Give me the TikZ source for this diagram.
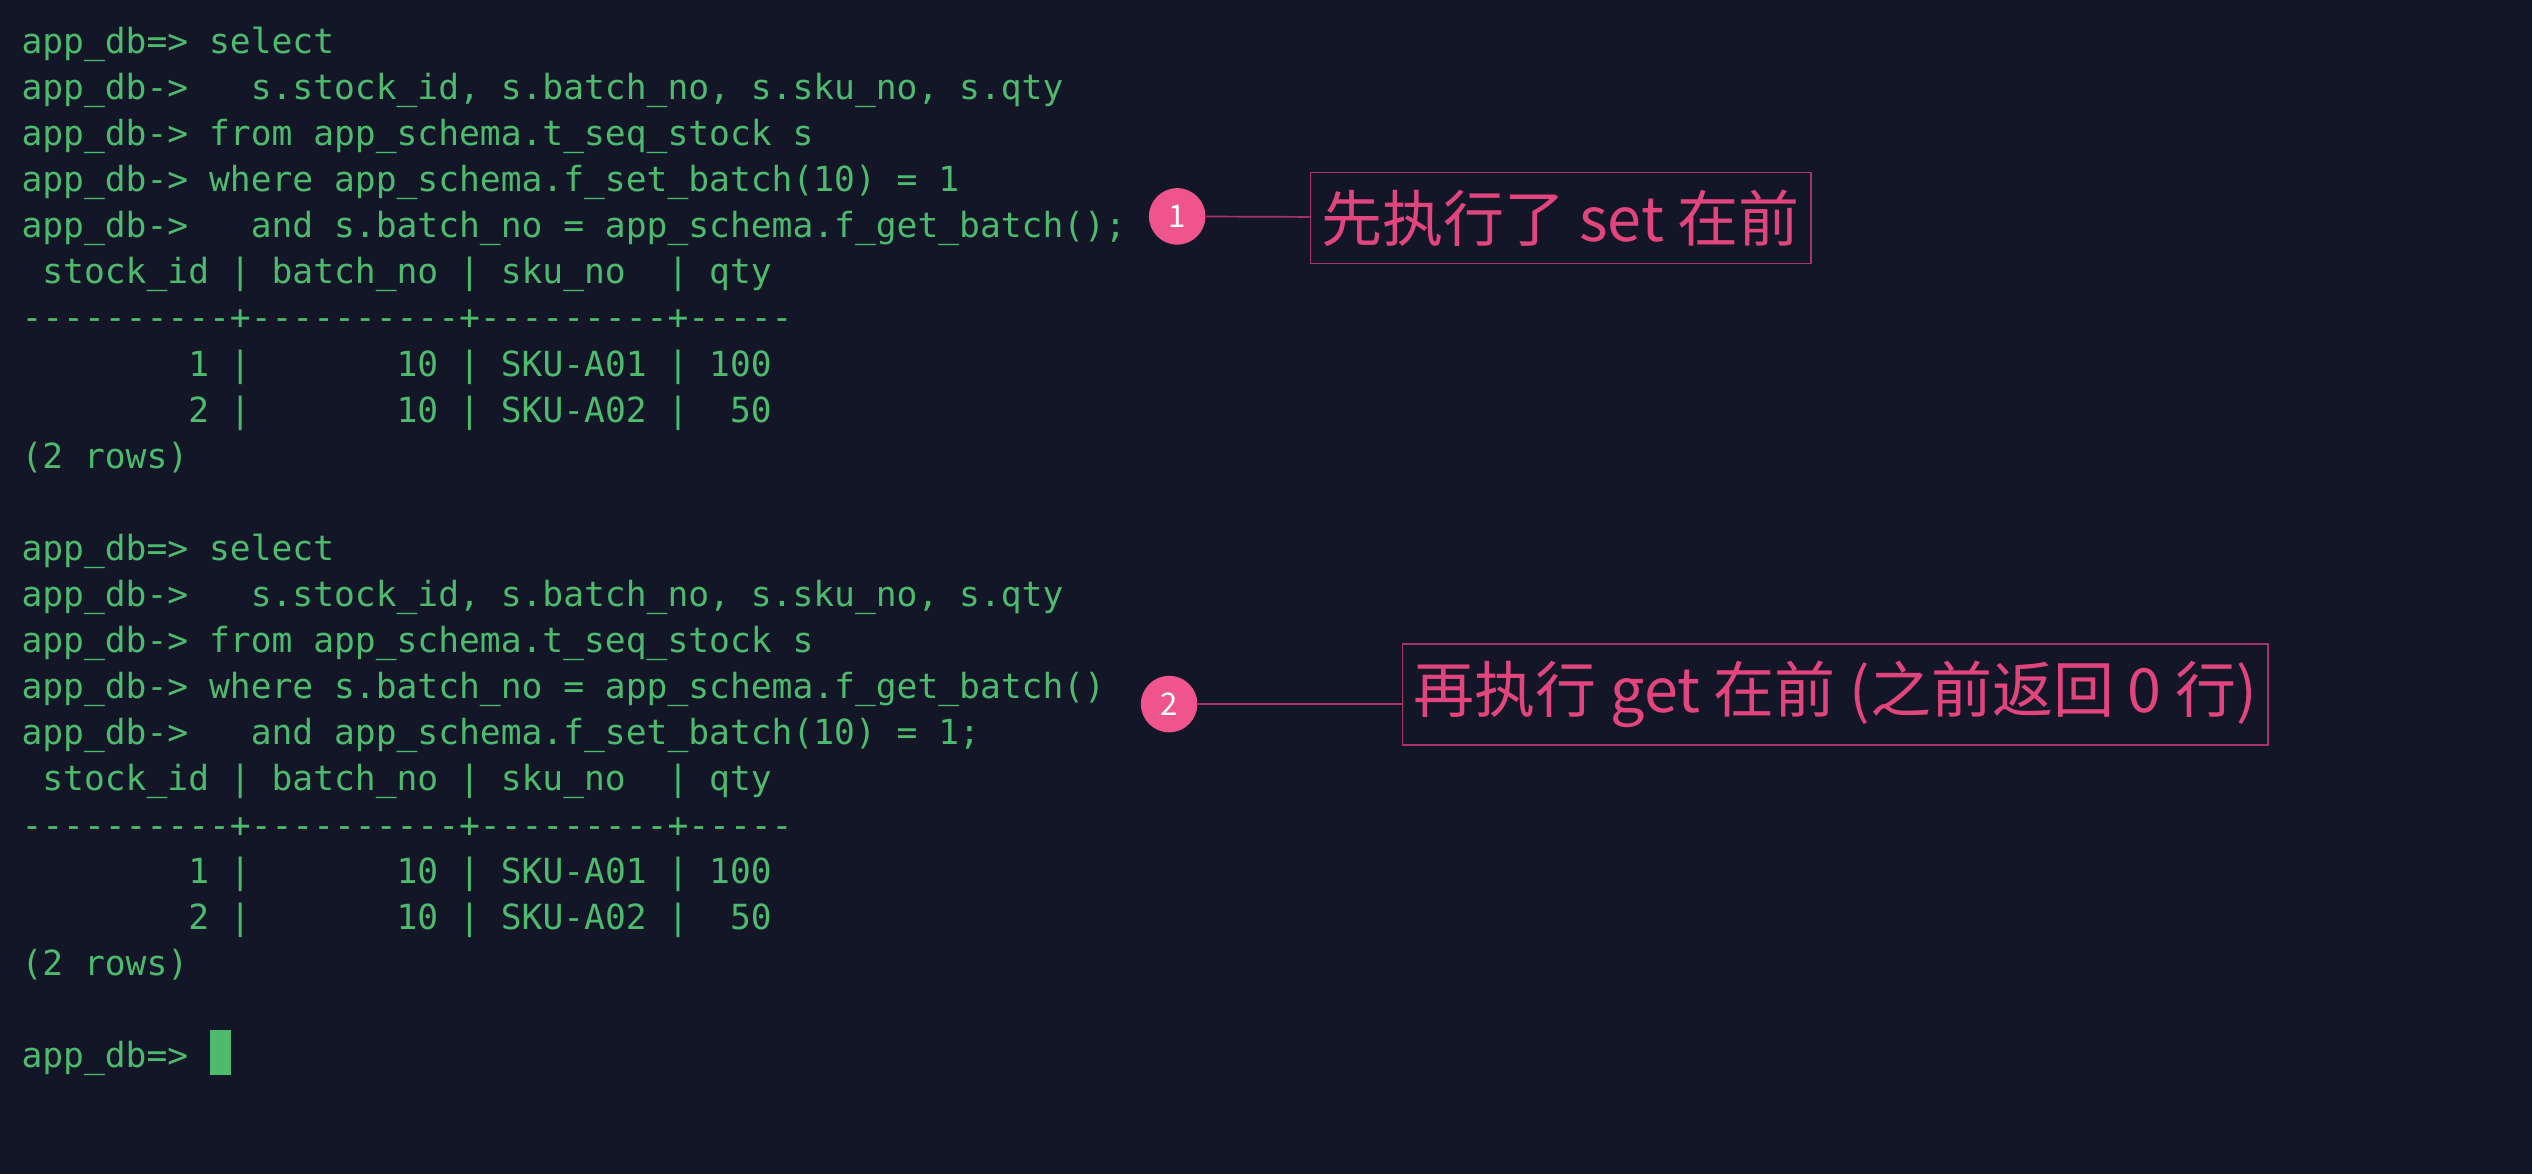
\documentclass[tikz,border=0pt]{standalone}
\usepackage{fontspec}
\setmonofont{DejaVu Sans Mono}
\newfontfamily\cjk{Noto Sans CJK SC}
\usetikzlibrary{positioning}
\definecolor{termbg}{HTML}{131627}
\definecolor{termgreen}{HTML}{4DBA6E}
\definecolor{notepink}{HTML}{E2457E}
\definecolor{markpink}{HTML}{F0548C}
\definecolor{boxline}{HTML}{A8336A}

\tikzset{
  termline/.style={anchor=base west,inner sep=0pt,text=termgreen,
    font=\ttfamily\fontsize{12.2}{14}\selectfont},
  stepmark/.style={circle,fill=markpink,text=white,minimum size=0.7cm,inner sep=0pt,
    font=\cjk\fontsize{11}{12}\selectfont},
  note/.style={draw=boxline,line width=0.6pt,text=notepink,inner xsep=4pt,inner ysep=6pt,
    font=\cjk\fontsize{21.5}{24}\selectfont},
  leader/.style={draw=boxline,line width=0.6pt}
}

\begin{document}
\begin{tikzpicture}[x=0.02cm,y=-0.02cm]
  \fill[termbg] (0,0) rectangle (1568,727);
  % terminal text
  \foreach \txt [count=\i] in {
    {app\_db=> select},
    {app\_db->~~~s.stock\_id, s.batch\_no, s.sku\_no, s.qty},
    {app\_db-> from app\_schema.t\_seq\_stock s},
    {app\_db-> where app\_schema.f\_set\_batch(10) = 1},
    {app\_db->~~~and s.batch\_no = app\_schema.f\_get\_batch();},
    {~stock\_id | batch\_no | sku\_no~~| qty},
    {----------+----------+---------+-----},
    {~~~~~~~~1 |~~~~~~~10 | SKU-A01 | 100},
    {~~~~~~~~2 |~~~~~~~10 | SKU-A02 |~~50},
    {(2 rows)},
    {},
    {app\_db=> select},
    {app\_db->~~~s.stock\_id, s.batch\_no, s.sku\_no, s.qty},
    {app\_db-> from app\_schema.t\_seq\_stock s},
    {app\_db-> where s.batch\_no = app\_schema.f\_get\_batch()},
    {app\_db->~~~and app\_schema.f\_set\_batch(10) = 1;},
    {~stock\_id | batch\_no | sku\_no~~| qty},
    {----------+----------+---------+-----},
    {~~~~~~~~1 |~~~~~~~10 | SKU-A01 | 100},
    {~~~~~~~~2 |~~~~~~~10 | SKU-A02 |~~50},
    {(2 rows)},
    {},
    {app\_db=>~}}
    \node[termline] (l\i) at (13,{33+28.55*(\i-1)}) {\txt};
  \fill[termgreen] (130,638) rectangle (143,666);

  % callouts
  \node[stepmark] (m1) at (729,134) {1};
  \node[note,anchor=west] (n1) at (811,135) {先执行了 set 在前};
  \draw[leader] (m1) -- (n1);
  \node[stepmark] (m2) at (724,436) {2};
  \node[note,anchor=west] (n2) at (868,430) {再执行 get 在前 (之前返回 0 行)};
  \draw[leader] (m2) -- (n2.west |- m2);
\end{tikzpicture}
\end{document}
